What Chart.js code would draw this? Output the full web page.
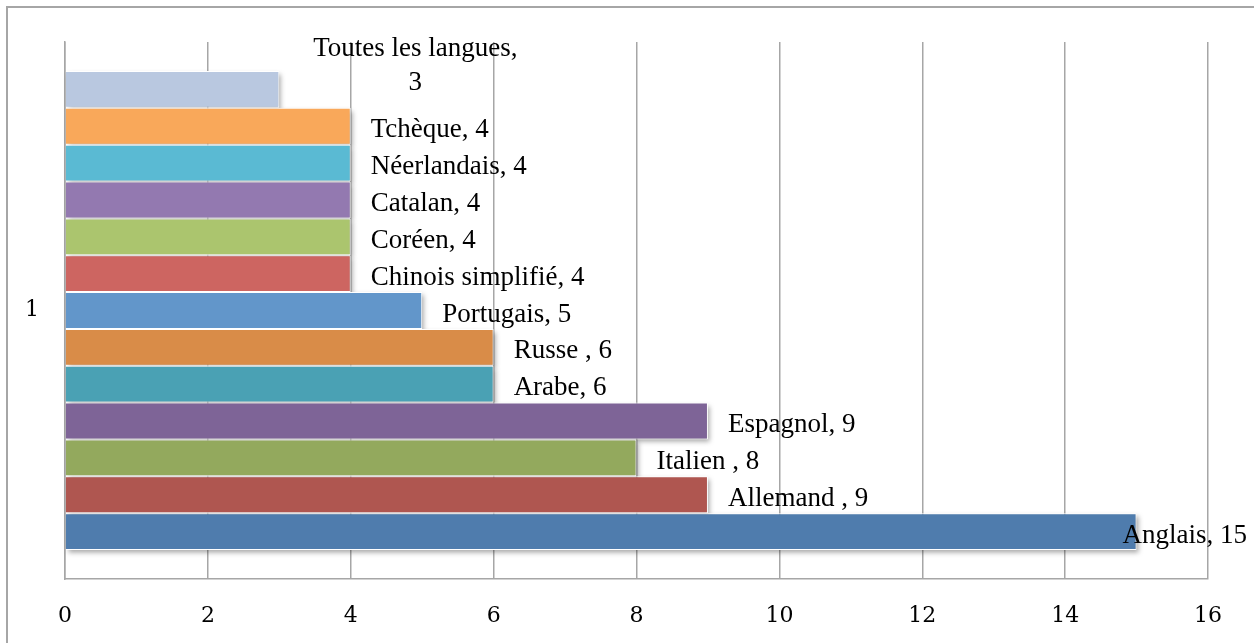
<!DOCTYPE html>
<html><head><meta charset="utf-8">
<script src="https://cdn.jsdelivr.net/npm/chart.js@4/dist/chart.umd.min.js"></script>
<style>html,body{margin:0;padding:0;background:#fff}</style>
</head><body>
<canvas id="c" width="1254" height="643"></canvas>
<script>
const categories = ['1'];
const languages = ['Toutes les langues','Tchèque','Néerlandais','Catalan','Coréen','Chinois simplifié','Portugais','Russe ','Arabe','Espagnol','Italien ','Allemand ','Anglais'];
const values = [3,4,4,4,4,4,5,6,6,9,8,9,15];
const colors = ['#B9C8E0','#F9A85A','#5ABAD3','#9379B0','#ABC56E','#CD6561','#6296CA','#D98C48','#4AA1B4','#7E6497','#93A95D','#AF5650','#4F7CAD'];
const xTicks = [0,2,4,6,8,10,12,14,16];

const FAMILY = '"Liberation Serif", "DejaVu Serif", serif';
const TICK_FONT = {family: '"DejaVu Serif", serif', size: 22};
const LABEL_SIZE = 27;
const GRID = '#A6A6A6';

const datasets = languages.map((name, i) => ({
  label: name,
  data: [values[i]],
  backgroundColor: colors[i],
  borderColor: '#FFFFFF',
  borderWidth: 1,
  borderSkipped: 'start',
  barPercentage: 1,
  categoryPercentage: 0.892
}));

const deco = {
  id: 'deco',
  beforeDraw(chart) {
    const ctx = chart.ctx;
    ctx.save();
    ctx.fillStyle = '#fff';
    ctx.fillRect(0, 0, chart.width, chart.height);
    ctx.strokeStyle = '#A6A6A6';
    ctx.lineWidth = 2;
    ctx.strokeRect(7, 7, chart.width + 50, chart.height + 50);
    ctx.restore();
  },
  beforeDatasetsDraw(chart) {
    const ctx = chart.ctx;
    const OFF = 5000;
    chart.data.datasets.forEach((ds, i) => {
      const el = chart.getDatasetMeta(i).data[0];
      const p = el.getProps(['x','y','base','height'], true);
      ctx.save();
      ctx.shadowColor = 'rgba(0,0,0,0.35)';
      ctx.shadowBlur = 5;
      ctx.shadowOffsetX = OFF + 2;
      ctx.shadowOffsetY = 3;
      ctx.fillStyle = '#000';
      ctx.fillRect(p.base - OFF, p.y - p.height/2, p.x - p.base, p.height);
      ctx.restore();
    });
  },
  afterDatasetsDraw(chart) {
    const ctx = chart.ctx;
    ctx.save();
    ctx.font = `${LABEL_SIZE}px ${FAMILY}`;
    ctx.fillStyle = '#000';
    ctx.textBaseline = 'middle';
    chart.data.datasets.forEach((ds, i) => {
      const el = chart.getDatasetMeta(i).data[0];
      const p = el.getProps(['x','y'], true);
      const v = ds.data[0];
      if (i === 0) {
        // top label wrapped onto two lines, as in the original
        ctx.textAlign = 'center';
        const cx = p.x + 136;
        ctx.fillText(ds.label + ',', cx, p.y - 41);
        ctx.fillText(String(v), cx, p.y - 7);
      } else {
        const txt = ds.label + ', ' + v;
        const w = ctx.measureText(txt).width;
        let x = p.x + 20;
        if (x + w > chart.width - 7) x = chart.width - 7 - w;
        ctx.textAlign = 'left';
        ctx.fillText(txt, x, p.y + 4);
      }
    });
    ctx.restore();
  }
};

new Chart(document.getElementById('c'), {
  type: 'bar',
  data: { labels: categories, datasets },
  options: {
    indexAxis: 'y',
    responsive: false,
    animation: false,
    layout: { padding: { top: 42, right: 46, left: 0, bottom: 0 } },
    plugins: { legend: { display: false }, tooltip: { enabled: false } },
    scales: {
      x: {
        min: 0, max: 16,
        afterBuildTicks: s => { s.ticks = xTicks.map(v => ({ value: v })); },
        ticks: { font: TICK_FONT, color: '#000', padding: 24, maxRotation: 0 },
        grid: { color: GRID, lineWidth: 1.5, drawTicks: false },
        border: { color: GRID, width: 1.5 },
        afterFit: s => { s.height = 64; }
      },
      y: {
        ticks: { font: TICK_FONT, color: '#000', padding: 26 },
        grid: { display: false, drawTicks: false },
        border: { display: true, color: GRID, width: 1.5 },
        afterFit: s => { s.width = 65; }
      }
    }
  },
  plugins: [deco]
});
</script>
</body></html>
